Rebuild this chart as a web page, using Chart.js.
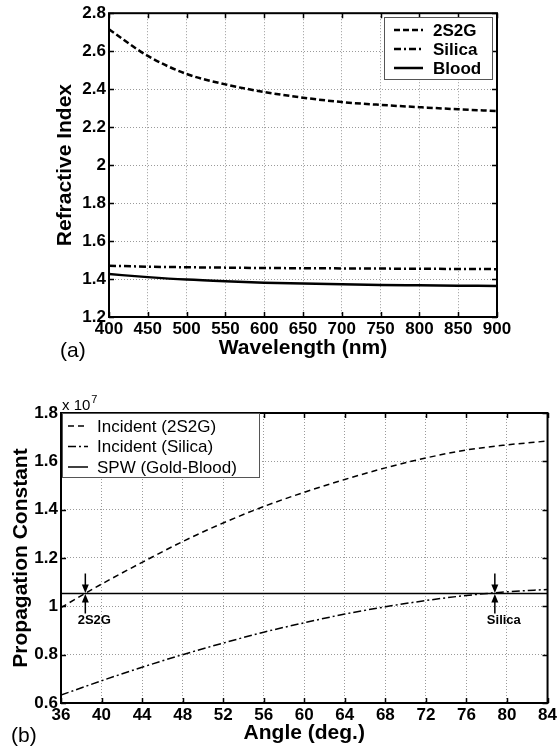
<!DOCTYPE html>
<html>
<head>
<meta charset="utf-8">
<script src="https://cdn.jsdelivr.net/npm/chart.js@4/dist/chart.umd.min.js"></script>
<style>
  body { margin: 0; background: #fff; width: 559px; height: 746px; position: relative; overflow: hidden; font-family: "Liberation Sans", Arial, sans-serif; }
  canvas { position: absolute; left: 0; }
  #chartA { top: 0; }
  #chartB { top: 361px; }
  .tag { position: absolute; font-size: 21px; line-height: 1; color: #000; }
</style>
</head>
<body>
<canvas id="chartA" width="559" height="361"></canvas>
<canvas id="chartB" width="559" height="385"></canvas>
<div class="tag" style="left:60px;top:339px">(a)</div>
<div class="tag" style="left:11px;top:724px">(b)</div>
<script>
// (a) refractive index vs wavelength
const wavelengths = [400, 450, 500, 550, 600, 650, 700, 750, 800, 850, 900];
const index2S2G   = [2.715, 2.575, 2.48, 2.425, 2.385, 2.355, 2.332, 2.317, 2.305, 2.294, 2.285];
const indexSilica = [1.470, 1.465, 1.462, 1.460, 1.458, 1.457, 1.456, 1.455, 1.454, 1.453, 1.452];
const indexBlood  = [1.426, 1.410, 1.397, 1.388, 1.381, 1.376, 1.372, 1.369, 1.367, 1.365, 1.363];

// (b) propagation constant (x 10^7) vs angle
const angles      = [36, 40, 44, 48, 52, 56, 60, 64, 68, 72, 76, 80, 84];
const beta2S2G    = [0.995, 1.092, 1.182, 1.268, 1.345, 1.413, 1.472, 1.525, 1.573, 1.614, 1.647, 1.668, 1.684];
const betaSilica  = [0.633, 0.692, 0.748, 0.800, 0.848, 0.893, 0.932, 0.968, 0.998, 1.024, 1.045, 1.060, 1.070];
const betaSPW     = [1.053, 1.053, 1.053, 1.053, 1.053, 1.053, 1.053, 1.053, 1.053, 1.053, 1.053, 1.053, 1.053];
const crossings   = [
  { label: '2S2G', angle: 38.4, value: 1.053 },
  { label: 'Silica', angle: 78.8, value: 1.053 }
];

const FONT = '"Liberation Sans", Arial, sans-serif';

function pairs(xs, ys) {
  return xs.map((x, i) => ({ x: x, y: ys[i] }));
}

function line(label, xs, ys, dash, width) {
  return {
    label: label,
    data: pairs(xs, ys),
    borderColor: '#000',
    borderWidth: width,
    borderDash: dash,
    pointRadius: 0,
    fill: false,
    cubicInterpolationMode: 'monotone'
  };
}

function axis(min, max, step, title, fixed, horizontal) {
  return {
    type: 'linear',
    min: min,
    max: max,
    ticks: {
      stepSize: step,
      color: '#000',
      padding: horizontal ? 2 : 3,
      maxRotation: 0,
      autoSkip: false,
      font: { family: FONT, size: 17, weight: 'bold' },
      callback: v => String(+v.toFixed(1))
    },
    grid: { color: '#9a9a9a', lineWidth: 1, drawTicks: false },
    border: { display: false, dash: [1, 2] },
    title: {
      display: true,
      text: title,
      color: '#000',
      padding: 0,
      font: { family: FONT, size: 21, weight: 'bold' }
    },
    afterFit: function (scale) {
      if (horizontal) scale.height = fixed; else scale.width = fixed;
    }
  };
}

// box round the plot with inward tick marks, plus legend and notes
const framePlugin = {
  id: 'frame',
  afterDatasetsDraw(chart) {
    const ctx = chart.ctx;
    const a = chart.chartArea;
    const xs = chart.scales.x, ys = chart.scales.y;
    ctx.save();
    ctx.strokeStyle = '#000';
    ctx.lineWidth = 1.5;
    ctx.beginPath();
    xs.ticks.forEach(t => {
      const px = Math.round(xs.getPixelForValue(t.value)) + 0.5;
      ctx.moveTo(px, a.bottom); ctx.lineTo(px, a.bottom - 5);
      ctx.moveTo(px, a.top); ctx.lineTo(px, a.top + 5);
    });
    ys.ticks.forEach(t => {
      const py = Math.round(ys.getPixelForValue(t.value)) + 0.5;
      ctx.moveTo(a.left, py); ctx.lineTo(a.left + 5, py);
      ctx.moveTo(a.right, py); ctx.lineTo(a.right - 5, py);
    });
    ctx.stroke();
    ctx.lineWidth = 2;
    ctx.strokeRect(a.left, a.top, a.right - a.left, a.bottom - a.top);
    ctx.restore();

    const opts = chart.options.plugins.frame;
    if (opts.legend) drawLegend(chart, opts.legend);
    if (opts.crossings) drawCrossings(chart);
  }
};

function drawLegend(chart, lg) {
  const ctx = chart.ctx;
  ctx.save();
  ctx.fillStyle = '#fff';
  ctx.fillRect(lg.x, lg.y, lg.w, lg.h);
  ctx.strokeStyle = '#555';
  ctx.lineWidth = 1;
  ctx.strokeRect(lg.x + 0.5, lg.y + 0.5, lg.w, lg.h);
  ctx.font = lg.font;
  ctx.textBaseline = 'middle';
  ctx.fillStyle = '#000';
  chart.data.datasets.forEach((ds, i) => {
    const y = lg.y + lg.first + i * lg.row;
    ctx.setLineDash(ds.borderDash || []);
    ctx.lineWidth = ds.borderWidth;
    ctx.strokeStyle = ds.borderColor;
    ctx.beginPath();
    ctx.moveTo(lg.x + lg.l0, y);
    ctx.lineTo(lg.x + lg.l1, y);
    ctx.stroke();
    ctx.setLineDash([]);
    ctx.fillText(ds.label, lg.x + lg.tx, y + 1);
  });
  ctx.restore();
}

function drawCrossings(chart) {
  const ctx = chart.ctx;
  const xs = chart.scales.x, ys = chart.scales.y;
  const a = chart.chartArea;
  ctx.save();
  ctx.fillStyle = '#000';
  ctx.strokeStyle = '#000';
  ctx.lineWidth = 1.5;
  crossings.forEach(c => {
    const x = xs.getPixelForValue(c.angle);
    const y = ys.getPixelForValue(c.value);
    ctx.beginPath();
    ctx.moveTo(x, y - 20); ctx.lineTo(x, y - 8);
    ctx.moveTo(x, y + 20); ctx.lineTo(x, y + 8);
    ctx.stroke();
    ctx.beginPath();
    ctx.moveTo(x - 3.5, y - 9); ctx.lineTo(x + 3.5, y - 9); ctx.lineTo(x, y - 0.5); ctx.closePath();
    ctx.moveTo(x - 3.5, y + 9); ctx.lineTo(x + 3.5, y + 9); ctx.lineTo(x, y + 0.5); ctx.closePath();
    ctx.fill();
    ctx.font = 'bold 13px ' + FONT;
    ctx.textAlign = 'center';
    ctx.textBaseline = 'middle';
    ctx.fillText(c.label, x + 9, y + 27);
  });
  // exponent above the y axis
  ctx.textAlign = 'left';
  ctx.textBaseline = 'alphabetic';
  ctx.font = '15px ' + FONT;
  ctx.fillText('x 10', a.left + 1, a.top - 3);
  const w = ctx.measureText('x 10').width;
  ctx.font = '11px ' + FONT;
  ctx.fillText('7', a.left + 2 + w, a.top - 10);
  ctx.restore();
}

new Chart(document.getElementById('chartA').getContext('2d'), {
  type: 'line',
  data: {
    datasets: [
      line('2S2G', wavelengths, index2S2G, [6, 3], 2.5),
      line('Silica', wavelengths, indexSilica, [7, 3, 2, 3], 2.5),
      line('Blood', wavelengths, indexBlood, [], 2.5)
    ]
  },
  options: {
    responsive: false,
    animation: false,
    layout: { padding: { left: 53, top: 13, right: 62, bottom: 0 } },
    scales: {
      x: axis(400, 900, 50, 'Wavelength (nm)', 44, true),
      y: axis(1.2, 2.8, 0.2, 'Refractive Index', 56, false)
    },
    plugins: {
      legend: { display: false },
      tooltip: { enabled: false },
      frame: {
        legend: { x: 384, y: 17, w: 108, h: 62, first: 13, row: 19, l0: 10, l1: 39, tx: 49, font: 'bold 17px ' + FONT }
      }
    }
  },
  plugins: [framePlugin]
});

new Chart(document.getElementById('chartB').getContext('2d'), {
  type: 'line',
  data: {
    datasets: [
      line('Incident (2S2G)', angles, beta2S2G, [6, 4], 1.5),
      line('Incident (Silica)', angles, betaSilica, [8, 3, 2, 3], 1.5),
      line('SPW (Gold-Blood)', angles, betaSPW, [], 1.5)
    ]
  },
  options: {
    responsive: false,
    animation: false,
    layout: { padding: { left: 9, top: 52, right: 10, bottom: 0 } },
    scales: {
      x: axis(36, 84, 4, 'Angle (deg.)', 43, true),
      y: axis(0.6, 1.8, 0.2, 'Propagation Constant', 52, false)
    },
    plugins: {
      legend: { display: false },
      tooltip: { enabled: false },
      frame: {
        legend: { x: 62, y: 52, w: 197, h: 64, first: 13, row: 20.5, l0: 6, l1: 26, tx: 35, font: '17px ' + FONT },
        crossings: true
      }
    }
  },
  plugins: [framePlugin]
});
</script>
</body>
</html>
